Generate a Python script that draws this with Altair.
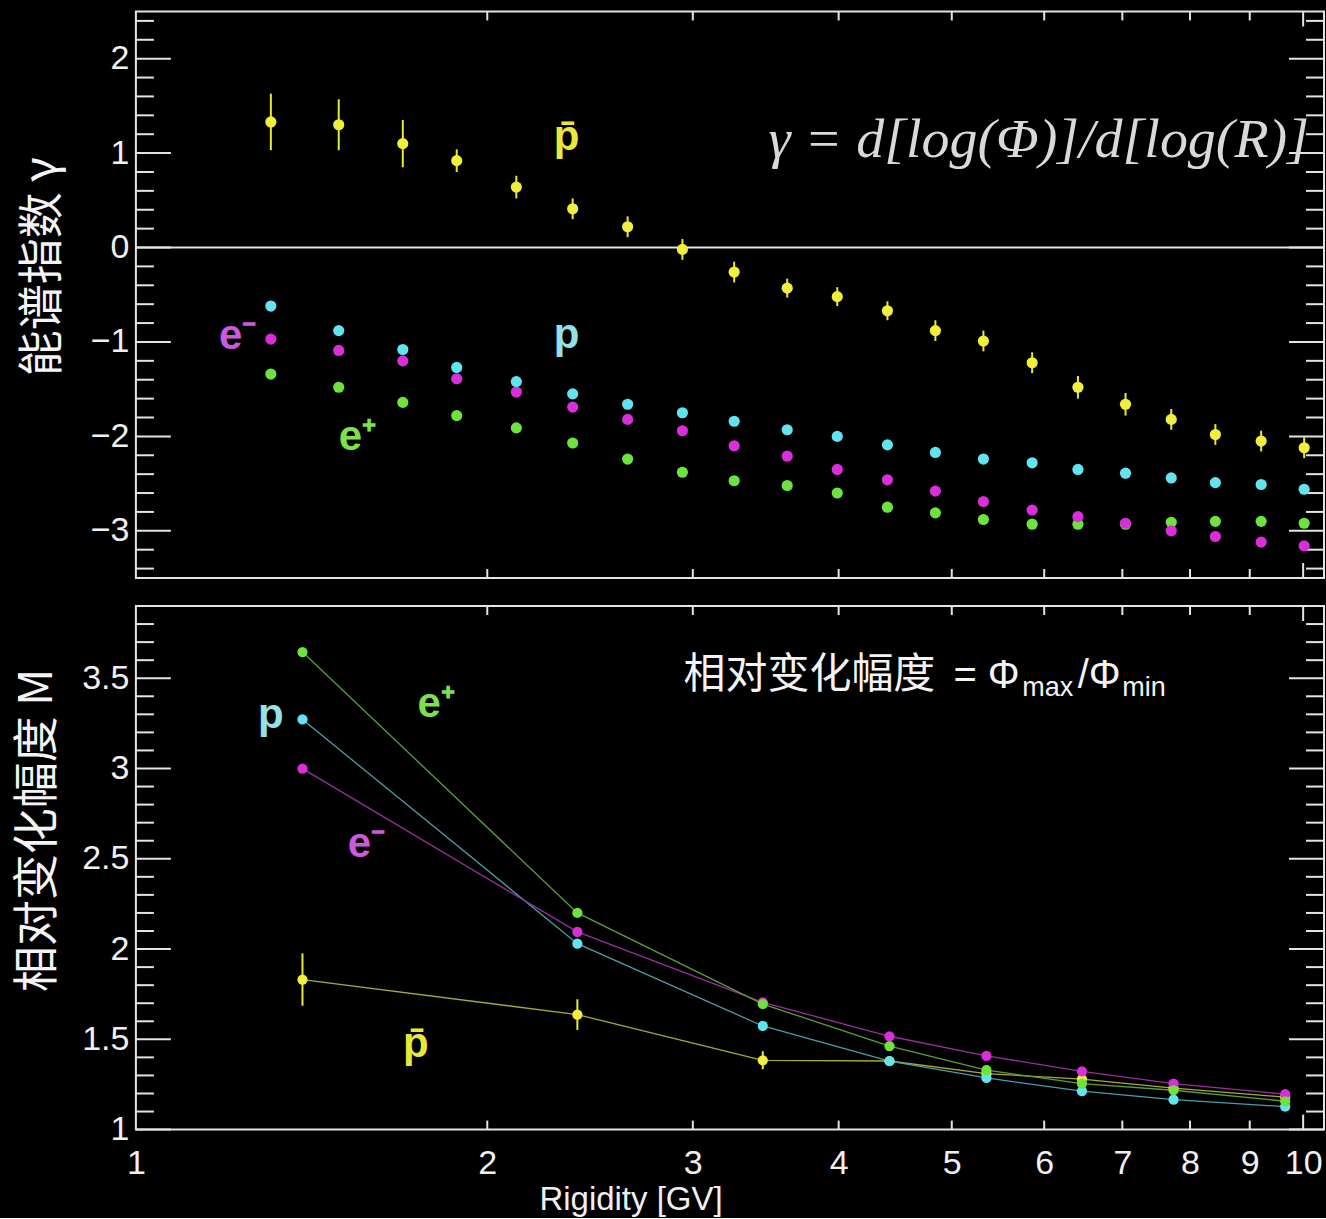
import altair as alt
import pandas as pd

# ---------------- data ----------------
R_top = [1.305, 1.492, 1.693, 1.883, 2.118, 2.367, 2.638, 2.939, 3.255, 3.614, 3.989,
         4.404, 4.841, 5.322, 5.859, 6.413, 7.044, 7.709, 8.410, 9.205, 10.02]
gamma_pbar = [1.33, 1.30, 1.10, 0.92, 0.64, 0.41, 0.22, -0.02, -0.26, -0.43, -0.52,
              -0.67, -0.88, -0.99, -1.22, -1.48, -1.66, -1.82, -1.98, -2.05, -2.12]
gamma_pbar_err = [0.30, 0.27, 0.25, 0.12, 0.12, 0.11, 0.11, 0.11, 0.11, 0.10, 0.10,
                  0.10, 0.11, 0.11, 0.11, 0.12, 0.12, 0.11, 0.11, 0.11, 0.11]
gamma_p = [-0.62, -0.88, -1.08, -1.27, -1.42, -1.55, -1.66, -1.75, -1.84, -1.93, -2.00,
           -2.09, -2.17, -2.24, -2.28, -2.35, -2.39, -2.44, -2.49, -2.51, -2.56]
gamma_em = [-0.97, -1.09, -1.20, -1.39, -1.53, -1.69, -1.82, -1.94, -2.10, -2.21, -2.35,
            -2.46, -2.58, -2.69, -2.78, -2.85, -2.92, -3.00, -3.06, -3.12, -3.16]
gamma_ep = [-1.34, -1.48, -1.64, -1.78, -1.91, -2.07, -2.24, -2.38, -2.47, -2.52, -2.60,
            -2.75, -2.81, -2.88, -2.93, -2.93, -2.93, -2.91, -2.90, -2.90, -2.92]

R_bot = [1.389, 2.389, 3.444, 4.422, 5.354, 6.464, 7.744, 9.652]
M_ep = [3.645, 2.20, 1.695, 1.463, 1.329, 1.255, 1.218, 1.157]
M_p = [3.272, 2.03, 1.574, 1.379, 1.286, 1.213, 1.166, 1.127]
M_em = [2.999, 2.095, 1.705, 1.517, 1.408, 1.323, 1.255, 1.196]
M_pbar = [1.831, 1.637, 1.384, 1.38, 1.31, 1.28, 1.23, 1.18]
M_pbar_err = [0.145, 0.085, 0.05, 0.02, 0.015, 0.015, 0.015, 0.015]

series_names = ["ep", "em", "p", "pbar"]
series_colors = ["#6EE23E", "#D92ED9", "#62E4EE", "#F0F03C"]
line_colors = ["#5A9E38", "#9A2E9E", "#4A9EA8", "#A8A838"]

top_y_major = [-3, -2, -1, 0, 1, 2]
top_y_minor = [-3.4, -3.2, -2.8, -2.6, -2.4, -2.2, -1.8, -1.6, -1.4, -1.2, -0.8, -0.6,
               -0.4, -0.2, 0.2, 0.4, 0.6, 0.8, 1.2, 1.4, 1.6, 1.8, 2.2, 2.4]
bot_y_major = [1, 1.5, 2, 2.5, 3, 3.5]
bot_y_minor = [1.1, 1.2, 1.3, 1.4, 1.6, 1.7, 1.8, 1.9, 2.1, 2.2, 2.3, 2.4, 2.6, 2.7,
               2.8, 2.9, 3.1, 3.2, 3.3, 3.4, 3.6, 3.7, 3.8]
x_ticks_short = [2, 3, 4, 5, 6, 7, 8, 9]
x_ticks_long = [10]
x_labels = [1, 2, 3, 4, 5, 6, 7, 8, 9, 10]

# annotation labels (position in data units)
top_lab_text = ["p\u0304", "p", "e\u207B", "e\u207A"]
top_lab_R = [2.339, 2.339, 1.178, 1.492]
top_lab_v = [1.03, -1.066, -1.077, -2.146]
top_lab_col = ["#E8E83A", "#93E2E8", "#CC58DD", "#7EE04A"]
top_lab_align = ["center", "center", "left", "left"]

bot_lab_text = ["e\u207A", "p", "e\u207B", "p\u0304"]
bot_lab_R = [1.743, 1.305, 1.519, 1.737]
bot_lab_v = [3.285, 3.224, 2.51, 1.403]
bot_lab_col = ["#7EE04A", "#93E2E8", "#CC58DD", "#E8E83A"]
bot_lab_align = ["left", "center", "left", "center"]

W = 1189
H_TOP = 567
H_BOT = 524
XMAX = 10.42
FRAME = "#e4e4e4"

xs = alt.Scale(type="log", domain=[1, XMAX], nice=False)
ys_top = alt.Scale(domain=[-3.5, 2.5], nice=False)
ys_bot = alt.Scale(domain=[1, 3.9], nice=False)
cscale = alt.Scale(domain=series_names, range=series_colors)
lscale = alt.Scale(domain=series_names, range=line_colors)

# ---------------- tables ----------------
def long_table(R, pairs):
    rows = []
    for name, vals in pairs:
        for r, v in zip(R, vals):
            rows.append({"R": r, "val": v, "series": name})
    return pd.DataFrame(rows)

top_df = long_table(R_top, [("ep", gamma_ep), ("em", gamma_em), ("p", gamma_p), ("pbar", gamma_pbar)])
top_err = pd.DataFrame({"R": R_top,
                        "lo": [v - e for v, e in zip(gamma_pbar, gamma_pbar_err)],
                        "hi": [v + e for v, e in zip(gamma_pbar, gamma_pbar_err)]})
bot_df = long_table(R_bot, [("pbar", M_pbar), ("p", M_p), ("em", M_em), ("ep", M_ep)])
bot_err = pd.DataFrame({"R": R_bot,
                        "lo": [v - e for v, e in zip(M_pbar, M_pbar_err)],
                        "hi": [v + e for v, e in zip(M_pbar, M_pbar_err)]})

top_lab = pd.DataFrame({"R": top_lab_R, "val": top_lab_v, "text": top_lab_text,
                        "color": top_lab_col, "align": top_lab_align})
bot_lab = pd.DataFrame({"R": bot_lab_R, "val": bot_lab_v, "text": bot_lab_text,
                        "color": bot_lab_col, "align": bot_lab_align})

# ---------------- axes ----------------
y_axis_top = alt.Axis(values=top_y_major, format="~g", ticks=False, domain=False, grid=False,
                      labelFont="Liberation Sans", labelFontSize=34, labelColor="#f0f0f0",
                      labelPadding=7,
                      title="能谱指数 γ", titleFont="Noto Sans CJK SC", titleFontSize=46,
                      titleFontWeight="normal", titleColor="#f4f4f4", titleX=-93, titleY=255,
                      titleBaseline="middle", titleAlign="center", titleAngle=270)
y_axis_bot = alt.Axis(values=bot_y_major, format="~g", ticks=False, domain=False, grid=False,
                      labelFont="Liberation Sans", labelFontSize=34, labelColor="#f0f0f0",
                      labelPadding=7,
                      title="相对变化幅度 M", titleFont="Noto Sans CJK SC", titleFontSize=46,
                      titleFontWeight="normal", titleColor="#f4f4f4", titleX=-98, titleY=224,
                      titleBaseline="middle", titleAlign="center", titleAngle=270)
x_axis_bot = alt.Axis(values=x_labels, format="d", ticks=False, domain=False, grid=False,
                      labelFont="Liberation Sans", labelFontSize=34, labelColor="#f0f0f0",
                      labelPadding=17, labelFlush=False, labelOverlap=False,
                      title="Rigidity [GV]", titleFont="Liberation Sans", titleFontSize=33,
                      titleFontWeight="normal", titleColor="#f0f0f0", titleX=495, titleY=80,
                      titleBaseline="alphabetic", titleAlign="center")


def frame_ticks(height, yscale, yaxis, xaxis, ymaj, ymin):
    """IDL-style inward ticks on all four sides."""
    layers = []
    ymaj_df = pd.DataFrame({"val": ymaj})
    ymin_df = pd.DataFrame({"val": ymin})
    for df, ln in [(ymaj_df, 35), (ymin_df, 18)]:
        layers.append(alt.Chart(df).mark_rule(color=FRAME, strokeWidth=2).encode(
            y=alt.Y("val:Q", scale=yscale, axis=yaxis), x=alt.value(0), x2=alt.value(ln)))
        layers.append(alt.Chart(df).mark_rule(color=FRAME, strokeWidth=2).encode(
            y=alt.Y("val:Q", scale=yscale, axis=yaxis), x=alt.value(W), x2=alt.value(W - ln)))
    for vals, ln in [(x_ticks_short, 9), (x_ticks_long, 15)]:
        df = pd.DataFrame({"R": vals})
        layers.append(alt.Chart(df).mark_rule(color=FRAME, strokeWidth=2).encode(
            x=alt.X("R:Q", scale=xs, axis=xaxis), y=alt.value(height), y2=alt.value(height - ln)))
        layers.append(alt.Chart(df).mark_rule(color=FRAME, strokeWidth=2).encode(
            x=alt.X("R:Q", scale=xs, axis=xaxis), y=alt.value(0), y2=alt.value(ln)))
    return layers


def label_layer(df, yscale, yaxis, xaxis):
    out = []
    for al in ["left", "center"]:
        out.append(alt.Chart(df).transform_filter(alt.datum.align == al).mark_text(
            font="Liberation Sans", fontWeight="bold", fontSize=42, align=al,
            baseline="alphabetic").encode(
            x=alt.X("R:Q", scale=xs, axis=xaxis),
            y=alt.Y("val:Q", scale=yscale, axis=yaxis),
            text="text:N", color=alt.Color("color:N", scale=None)))
    return out

# ---------------- top panel ----------------
zero_line = alt.Chart(pd.DataFrame({"val": [0]})).mark_rule(color=FRAME, strokeWidth=2).encode(
    y=alt.Y("val:Q", scale=ys_top, axis=y_axis_top))

top_errbars = alt.Chart(top_err).mark_rule(color="#E8E83A", strokeWidth=2).encode(
    x=alt.X("R:Q", scale=xs, axis=None),
    y=alt.Y("lo:Q", scale=ys_top, axis=y_axis_top), y2="hi:Q")

top_points = alt.Chart(top_df).mark_circle(size=125, opacity=1).encode(
    x=alt.X("R:Q", scale=xs, axis=None),
    y=alt.Y("val:Q", scale=ys_top, axis=y_axis_top),
    color=alt.Color("series:N", scale=cscale, legend=None))

formula = alt.Chart(pd.DataFrame({"R": [3.483], "val": [0.955],
                                  "text": ["γ  =  d[log(Φ)]/d[log(R)]"]})).mark_text(
    font="Liberation Serif", fontStyle="italic", fontSize=56, color="#d9d9d9",
    align="left", baseline="alphabetic", clip=True).encode(
    x=alt.X("R:Q", scale=xs, axis=None),
    y=alt.Y("val:Q", scale=ys_top, axis=y_axis_top), text="text:N")

top = alt.layer(
    zero_line,
    *frame_ticks(H_TOP, ys_top, y_axis_top, None, top_y_major, top_y_minor),
    top_errbars, top_points, formula,
    *label_layer(top_lab, ys_top, y_axis_top, None),
).properties(width=W, height=H_TOP)

# ---------------- bottom panel ----------------
bot_lines = alt.Chart(bot_df).mark_line(strokeWidth=1.3).encode(
    x=alt.X("R:Q", scale=xs, axis=x_axis_bot),
    y=alt.Y("val:Q", scale=ys_bot, axis=y_axis_bot),
    stroke=alt.Stroke("series:N", scale=lscale, legend=None),
    detail="series:N")

bot_errbars = alt.Chart(bot_err).mark_rule(color="#E8E83A", strokeWidth=2).encode(
    x=alt.X("R:Q", scale=xs, axis=x_axis_bot),
    y=alt.Y("lo:Q", scale=ys_bot, axis=y_axis_bot), y2="hi:Q")

bot_points = alt.Chart(bot_df).mark_circle(size=105, opacity=1).encode(
    x=alt.X("R:Q", scale=xs, axis=x_axis_bot),
    y=alt.Y("val:Q", scale=ys_bot, axis=y_axis_bot),
    color=alt.Color("series:N", scale=cscale, legend=None))

# "相对变化幅度 = Φmax/Φmin"
ann_text = ["相对变化幅度", "= Φ", "max", "/Φ", "min"]
ann_R = [2.946, 5.016, 5.746, 6.41, 7.0]
ann_v = [3.518, 3.512, 3.446, 3.512, 3.446]
ann_font = ["Noto Sans CJK SC", "Liberation Sans", "Liberation Sans", "Liberation Sans", "Liberation Sans"]
ann_size = [42, 40, 27, 40, 27]
ann_df = pd.DataFrame({"R": ann_R, "val": ann_v, "text": ann_text, "font": ann_font, "fs": ann_size})
ann_layers = []
for fnt in ["Noto Sans CJK SC", "Liberation Sans"]:
    ann_layers.append(alt.Chart(ann_df).transform_filter(alt.datum.font == fnt).mark_text(
        font=fnt, color="#f4f4f4", align="left", baseline="middle").encode(
        x=alt.X("R:Q", scale=xs, axis=x_axis_bot),
        y=alt.Y("val:Q", scale=ys_bot, axis=y_axis_bot),
        text="text:N", size=alt.Size("fs:Q", scale=None, legend=None)))

bottom = alt.layer(
    *frame_ticks(H_BOT, ys_bot, y_axis_bot, x_axis_bot, bot_y_major, bot_y_minor),
    bot_lines, bot_errbars, bot_points, *ann_layers,
    *label_layer(bot_lab, ys_bot, y_axis_bot, x_axis_bot),
).properties(width=W, height=H_BOT)

chart = alt.vconcat(top, bottom, spacing=24).properties(
    background="black",
    padding={"left": 14, "top": 9, "right": 0, "bottom": 0},
).configure_view(stroke=FRAME, strokeWidth=2)

chart.save("out.html", embed_options={"renderer": "svg", "actions": False})
